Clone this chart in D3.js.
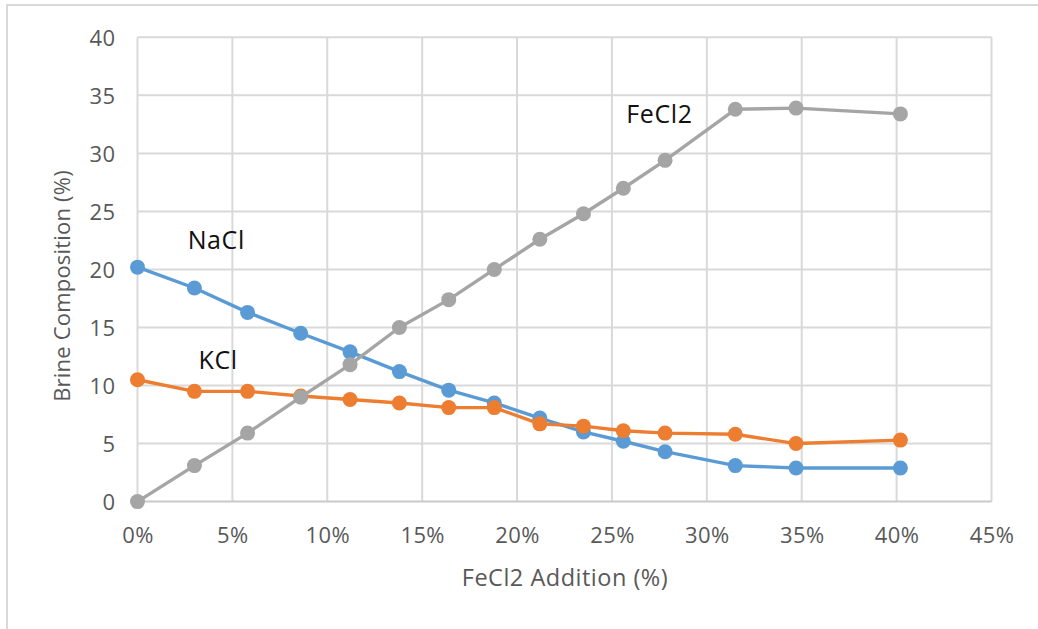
<!DOCTYPE html>
<html>
<head>
<meta charset="utf-8">
<script src="https://cdn.jsdelivr.net/npm/d3@7"></script>
<style>
  html, body { margin: 0; padding: 0; background: #fff; }
  svg { display: block; }
  text { font-family: "Open Sans", "Noto Sans", sans-serif; }
</style>
</head>
<body>
<svg id="chart" width="1038" height="629"></svg>
<script>
// FeCl2 added (%) at each sampling step
const additions = [0, 3.0, 5.8, 8.6, 11.2, 13.8, 16.4, 18.8, 21.2, 23.5, 25.6, 27.8, 31.5, 34.7, 40.2];

// Brine composition (%) per component
const nacl  = [20.2, 18.4, 16.3, 14.5, 12.9, 11.2, 9.6, 8.5, 7.2, 6.0, 5.2, 4.3, 3.1, 2.9, 2.9];
const kcl   = [10.5, 9.5, 9.5, 9.1, 8.8, 8.5, 8.1, 8.1, 6.7, 6.5, 6.1, 5.9, 5.8, 5.0, 5.3];
const fecl2 = [0, 3.1, 5.9, 9.0, 11.8, 15.0, 17.4, 20.0, 22.6, 24.8, 27.0, 29.4, 33.8, 33.9, 33.4];

const seriesNames = ["NaCl", "KCl", "FeCl2"];
const seriesColors = ["#5B9BD5", "#ED7D31", "#A5A5A5"];
const seriesValues = [nacl, kcl, fecl2];

const xTicks = [0, 5, 10, 15, 20, 25, 30, 35, 40, 45];
const yTicks = [0, 5, 10, 15, 20, 25, 30, 35, 40];

const xTitle = "FeCl2 Addition (%)";
const yTitle = "Brine Composition (%)";

const svg = d3.select("#chart");

// outer chart frame
svg.append("rect")
  .attr("x", 7).attr("y", 5)
  .attr("width", 1100).attr("height", 700)
  .attr("fill", "#fff")
  .attr("stroke", "#d9d9d9")
  .attr("stroke-width", 2);

const plot = { left: 137.5, right: 991.5, top: 37.3, bottom: 501.6 };

const x = d3.scaleLinear().domain([0, 45]).range([plot.left, plot.right]);
const y = d3.scaleLinear().domain([0, 40]).range([plot.bottom, plot.top]);

// gridlines
const grid = svg.append("g");
grid.selectAll(".vg").data(xTicks).join("line")
  .attr("x1", d => x(d)).attr("x2", d => x(d))
  .attr("y1", plot.top).attr("y2", plot.bottom)
  .attr("stroke", "#d9d9d9").attr("stroke-width", 2);
grid.selectAll(".hg").data(yTicks).join("line")
  .attr("x1", plot.left).attr("x2", plot.right)
  .attr("y1", d => y(d)).attr("y2", d => y(d))
  .attr("stroke", d => d === 0 ? "#c9c9c9" : "#d9d9d9")
  .attr("stroke-width", 2);

// axes (labels only, lines come from the grid)
const xAxis = d3.axisBottom(x).tickValues(xTicks).tickSize(0).tickPadding(0)
  .tickFormat(d => d + "%");
const gx = svg.append("g").attr("transform", `translate(0,${plot.bottom})`).call(xAxis);
gx.select(".domain").remove();
gx.selectAll("text")
  .attr("y", 41).attr("dy", null)
  .attr("fill", "#595959").attr("font-size", 22)
  .attr("letter-spacing", 0.4)
  .attr("font-family", "'Open Sans', sans-serif");

const yAxis = d3.axisLeft(y).tickValues(yTicks).tickSize(0).tickPadding(0);
const gy = svg.append("g").attr("transform", `translate(${plot.left},0)`).call(yAxis);
gy.select(".domain").remove();
gy.selectAll("text")
  .attr("x", -22).attr("dy", "0.35em")
  .attr("fill", "#595959").attr("font-size", 22)
  .attr("letter-spacing", 0.4)
  .attr("font-family", "'Open Sans', sans-serif");

// axis titles
svg.append("text")
  .attr("x", 565).attr("y", 586)
  .attr("text-anchor", "middle")
  .attr("fill", "#595959").attr("font-size", 23.5)
  .attr("letter-spacing", 0.5)
  .text(xTitle);

svg.append("text")
  .attr("transform", "translate(70,286) rotate(-90)")
  .attr("text-anchor", "middle")
  .attr("fill", "#595959").attr("font-size", 22)
  .attr("letter-spacing", 0.2)
  .text(yTitle);

// series lines and markers
const line = d3.line().x((d, i) => x(additions[i])).y(d => y(d));

seriesValues.forEach((vals, s) => {
  const g = svg.append("g");
  g.append("path")
    .datum(vals)
    .attr("d", line)
    .attr("fill", "none")
    .attr("stroke", seriesColors[s])
    .attr("stroke-width", 3.4)
    .attr("stroke-linejoin", "round");
  g.selectAll("circle").data(vals).join("circle")
    .attr("cx", (d, i) => x(additions[i]))
    .attr("cy", d => y(d))
    .attr("r", 7.5)
    .attr("fill", seriesColors[s]);
});

// series labels
const labelPos = [
  { name: seriesNames[0], px: 4.15, py: 22.5 },
  { name: seriesNames[1], px: 4.25, py: 12.2 },
  { name: seriesNames[2], px: 27.5, py: 33.4 }
];
svg.append("g").selectAll("text").data(labelPos).join("text")
  .attr("x", d => x(d.px))
  .attr("y", d => y(d.py))
  .attr("text-anchor", "middle")
  .attr("dy", "0.35em")
  .attr("fill", "#111")
  .attr("font-size", 25)
  .attr("letter-spacing", 0.6)
  .text(d => d.name);
</script>
</body>
</html>
